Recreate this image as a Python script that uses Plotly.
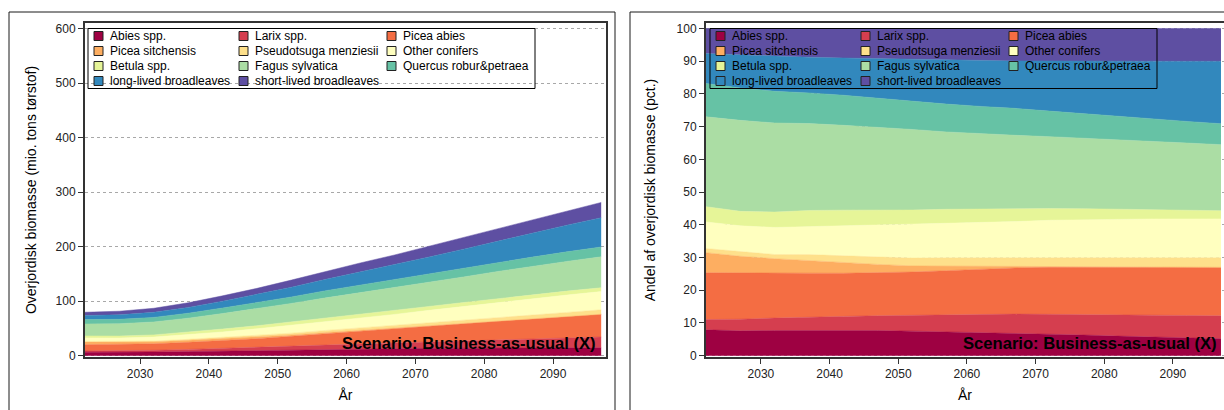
import plotly.graph_objects as go

# ---------------- data (mio. tons tørstof) ----------------
years = [2022, 2027, 2032, 2037, 2042, 2047, 2052, 2057,
         2062, 2067, 2072, 2077, 2082, 2087, 2092, 2097]

species = ["Abies spp.", "Larix spp.", "Picea abies",
           "Picea sitchensis", "Pseudotsuga menziesii", "Other conifers",
           "Betula spp.", "Fagus sylvatica", "Quercus robur&petraea",
           "long-lived broadleaves", "short-lived broadleaves"]

colors = ["#9e0142", "#d53e4f", "#f46d43", "#fdae61", "#fee08b", "#ffffbf",
          "#e6f598", "#abdda4", "#66c2a5", "#3288bd", "#5e4fa2"]

abies       = [6.3, 6.2, 6.7, 7.5, 8.5, 9.5, 10.4, 11.3, 11.9, 12.8, 13.5, 13.7, 14.0, 14.5, 14.6, 14.6]
larix       = [2.5, 2.9, 3.3, 4.0, 4.7, 5.6, 6.8, 8.2, 9.7, 10.7, 11.9, 13.7, 15.2, 16.5, 18.1, 19.7]
picea_abies = [11.4, 11.5, 11.9, 13.0, 14.5, 16.2, 18.3, 20.8, 23.5, 26.1, 28.9, 31.3, 33.9, 36.5, 39.1, 41.6]
picea_sitch = [4.9, 4.2, 3.9, 3.7, 3.6, 3.2, 2.6, 2.2, 1.5, 0.9, 0.4, 0.2, 0.2, 0.1, 0.1, 0.1]
pseudotsuga = [1.0, 1.1, 1.1, 1.8, 2.3, 2.8, 3.3, 3.9, 4.3, 4.8, 5.4, 5.9, 6.3, 7.0, 7.5, 8.2]
other_conif = [6.5, 6.5, 7.2, 8.3, 10.0, 12.1, 14.3, 16.3, 18.4, 20.5, 23.1, 25.6, 27.9, 30.0, 31.9, 33.4]
betula      = [3.7, 3.6, 4.1, 4.8, 5.3, 5.6, 6.1, 6.7, 7.0, 7.4, 7.2, 7.2, 7.3, 7.3, 7.2, 7.0]
fagus       = [21.9, 22.7, 23.7, 25.8, 28.5, 31.4, 34.2, 36.7, 39.1, 41.4, 44.2, 46.9, 49.8, 52.3, 54.5, 56.8]
quercus     = [8.1, 8.1, 8.4, 9.1, 10.1, 10.9, 11.8, 13.2, 14.3, 15.2, 15.7, 16.1, 16.4, 16.8, 17.6, 18.0]
long_lived  = [7.3, 8.2, 9.3, 10.6, 12.5, 14.9, 17.9, 20.9, 23.8, 26.8, 30.8, 34.9, 39.6, 44.3, 48.9, 53.7]
short_lived = [6.1, 6.6, 7.4, 8.5, 9.9, 11.4, 13.1, 14.9, 16.7, 18.3, 19.9, 21.7, 23.4, 25.0, 26.6, 28.1]

series = [abies, larix, picea_abies, picea_sitch, pseudotsuga, other_conif,
          betula, fagus, quercus, long_lived, short_lived]

x_ticks = [2030, 2040, 2050, 2060, 2070, 2080, 2090]
y_ticks_abs = [0, 100, 200, 300, 400, 500, 600]
y_ticks_pct = [0, 10, 20, 30, 40, 50, 60, 70, 80, 90, 100]

scenario_text = "Scenario: Business-as-usual (X)"
y_title_abs = "Overjordisk biomasse (mio. tons tørstof)"
y_title_pct = "Andel af overjordisk biomasse (pct.)"
x_title = "År"

# ---------------- layout geometry ----------------
W, H = 1224, 410
ML, MR, MT, MB = 85, 0, 23, 53
PW = W - ML - MR
PH = H - MT - MB
FONT = "Liberation Sans, Arial, sans-serif"


def px(x):
    return (x - ML) / PW


def py(y):
    return (H - MB - y) / PH


fig = go.Figure()

for i, (name, col, vals) in enumerate(zip(species, colors, series)):
    fig.add_trace(go.Scatter(
        x=years, y=vals, name=name, stackgroup="abs", mode="lines",
        line=dict(width=0.5, color=col), fillcolor=col,
        xaxis="x", yaxis="y", showlegend=False, hoverinfo="skip"))

for i, (name, col, vals) in enumerate(zip(species, colors, series)):
    kw = dict(groupnorm="percent") if i == 0 else {}
    fig.add_trace(go.Scatter(
        x=years, y=vals, name=name, stackgroup="pct", mode="lines",
        line=dict(width=0.5, color=col), fillcolor=col,
        xaxis="x2", yaxis="y2", showlegend=False, hoverinfo="skip", **kw))

frame = dict(showline=True, linecolor="#333333", linewidth=2, mirror=True,
             ticks="outside", ticklen=5, tickwidth=1, tickcolor="#333333",
             tickfont=dict(family=FONT, size=12, color="#222222"),
             zeroline=False, automargin=False)
grid = dict(showgrid=True, gridcolor="#a8a8a8", gridwidth=1, griddash="3px,3px")
title_font = dict(family=FONT, size=14, color="#000000")

fig.update_layout(
    template="none",
    width=W, height=H,
    margin=dict(l=ML, r=MR, t=MT, b=MB),
    paper_bgcolor="white", plot_bgcolor="white",
    font=dict(family=FONT, size=12, color="#000000"),
    showlegend=False,
    xaxis=dict(domain=[0, px(606)], range=[2022, 2097.7], tickvals=x_ticks,
               showgrid=False, anchor="y",
               title=dict(text=x_title, font=title_font, standoff=10), **frame),
    yaxis=dict(domain=[0, 1], range=[-2.4, 610.5], tickvals=y_ticks_abs, anchor="x",
               title=dict(text=y_title_abs, font=title_font, standoff=16),
               **grid, **frame),
    xaxis2=dict(domain=[px(706), 1], range=[2022, 2097.44], tickvals=x_ticks,
                showgrid=False, anchor="y2",
                title=dict(text=x_title, font=title_font, standoff=10), **frame),
    yaxis2=dict(domain=[0, 1], range=[-0.4, 101.7], tickvals=y_ticks_pct, anchor="x2",
                title=dict(text=y_title_pct, font=title_font, standoff=18),
                **grid, **frame),
)

shapes = []
annotations = []

# outer panel borders
shapes.append(dict(type="rect", xref="paper", yref="paper",
                   x0=px(9), x1=px(615), y0=py(440), y1=py(12),
                   line=dict(color="#1a1a1a", width=1), fillcolor="rgba(0,0,0,0)",
                   layer="above"))
shapes.append(dict(type="rect", xref="paper", yref="paper",
                   x0=px(630), x1=px(1240), y0=py(440), y1=py(12),
                   line=dict(color="#1a1a1a", width=1), fillcolor="rgba(0,0,0,0)",
                   layer="above"))

# legends (drawn inside each panel)
col_sq = [0, 145, 293]        # square offsets relative to legend box left + 6
row_y = [36, 51, 66, 81]
for box_left in (88, 710):
    shapes.append(dict(type="rect", xref="paper", yref="paper",
                       x0=px(box_left), x1=px(box_left + 447),
                       y0=py(88.5), y1=py(28.5),
                       line=dict(color="#000000", width=1),
                       fillcolor="rgba(0,0,0,0)", layer="above"))
    for k, (name, col) in enumerate(zip(species, colors)):
        r, c = divmod(k, 3)
        sx = box_left + 6 + col_sq[c]
        cy = row_y[r]
        shapes.append(dict(type="rect", xref="paper", yref="paper",
                           x0=px(sx), x1=px(sx + 9), y0=py(cy + 4.5), y1=py(cy - 4.5),
                           line=dict(color="#222222", width=1), fillcolor=col,
                           layer="above"))
        annotations.append(dict(xref="paper", yref="paper", x=px(sx + 14), y=py(cy),
                                xanchor="left", yanchor="middle", showarrow=False,
                                text=name, font=dict(family=FONT, size=12, color="#000000")))

# scenario labels
for right_px in (597, 1218):
    annotations.append(dict(xref="paper", yref="paper", x=px(right_px + 1), y=py(343),
                            xanchor="right", yanchor="middle", showarrow=False,
                            text="<b>" + scenario_text + "</b>",
                            font=dict(family=FONT, size=16.6, color="#000000")))

fig.update_layout(shapes=shapes, annotations=annotations)

fig.write_html("out.html")
